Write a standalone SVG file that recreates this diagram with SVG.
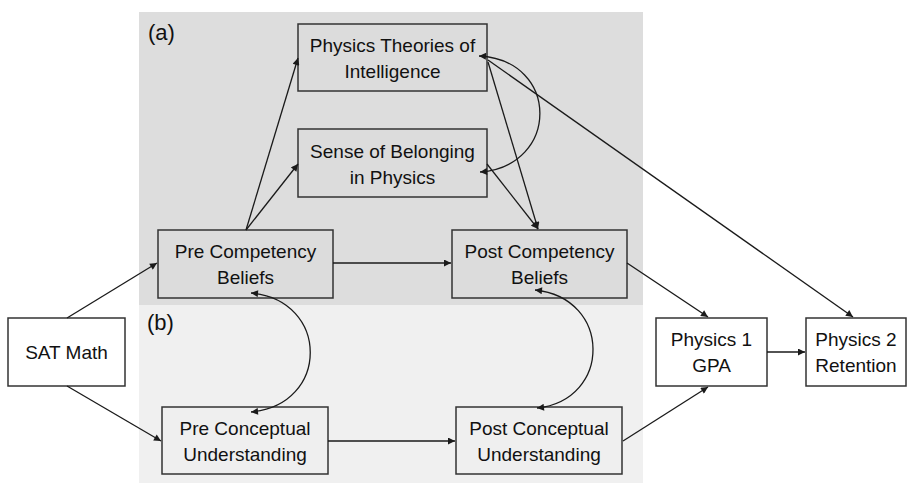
<svg xmlns="http://www.w3.org/2000/svg" width="908" height="483" viewBox="0 0 908 483">
<style>
.box{stroke:#333;stroke-width:1.5}
.a{fill:#dcdcdc}
.b{fill:#efefef}
.w{fill:#fff}
text{font-family:"Liberation Sans",Arial,sans-serif;font-size:19px;fill:#111;text-anchor:middle}
.lab{font-size:22px;text-anchor:start}
.c{fill:none;stroke:#1a1a1a;stroke-width:1.3}
</style>
<defs>
<marker id="ah" viewBox="0 0 10 10" refX="10" refY="5" markerWidth="9" markerHeight="7" markerUnits="userSpaceOnUse" orient="auto-start-reverse">
<path d="M0,0 L10,5 L0,10 z" fill="#1a1a1a"/>
</marker>
</defs>
<rect x="0" y="0" width="908" height="483" fill="#fff"/>
<rect x="139" y="12" width="504" height="293" fill="#dddddd"/>
<rect x="139" y="305" width="504" height="178" fill="#f0f0f0"/>
<text class="lab" x="148" y="40">(a)</text>
<text class="lab" x="147" y="330">(b)</text>
<g id="theories"><rect class="box a" x="298" y="24" width="189" height="67"/><text x="392.5" y="52">Physics Theories of</text><text x="392.5" y="78">Intelligence</text></g>
<g id="belonging"><rect class="box a" x="298" y="129" width="189" height="68"/><text x="392.5" y="158">Sense of Belonging</text><text x="392.5" y="184">in Physics</text></g>
<g id="precomp"><rect class="box a" x="158" y="230" width="175" height="68"/><text x="245.5" y="258">Pre Competency</text><text x="245.5" y="284">Beliefs</text></g>
<g id="postcomp"><rect class="box a" x="452" y="230" width="175" height="68"/><text x="539.5" y="258">Post Competency</text><text x="539.5" y="284">Beliefs</text></g>
<g id="satmath"><rect class="box w" x="8" y="318" width="117" height="68"/><text x="66.5" y="359">SAT Math</text></g>
<g id="precon"><rect class="box b" x="162" y="407" width="166" height="67"/><text x="245" y="435">Pre Conceptual</text><text x="245" y="461">Understanding</text></g>
<g id="postcon"><rect class="box b" x="456" y="407" width="166" height="67"/><text x="539" y="435">Post Conceptual</text><text x="539" y="461">Understanding</text></g>
<g id="phys1"><rect class="box w" x="656" y="318" width="111" height="68"/><text x="711.5" y="346">Physics 1</text><text x="711.5" y="372">GPA</text></g>
<g id="phys2"><rect class="box w" x="806" y="318" width="100" height="68"/><text x="856" y="346">Physics 2</text><text x="856" y="372">Retention</text></g>
<g id="connectors">
<line class="c" x1="67" y1="318" x2="157" y2="263" marker-end="url(#ah)"/>
<line class="c" x1="67" y1="386" x2="161" y2="441" marker-end="url(#ah)"/>
<line class="c" x1="333" y1="263" x2="451" y2="263" marker-end="url(#ah)"/>
<line class="c" x1="328" y1="441" x2="455" y2="441" marker-end="url(#ah)"/>
<line class="c" x1="246" y1="230" x2="298" y2="58" marker-end="url(#ah)"/>
<line class="c" x1="246" y1="230" x2="298" y2="164" marker-end="url(#ah)"/>
<line class="c" x1="488" y1="62" x2="538" y2="229" marker-end="url(#ah)"/>
<line class="c" x1="487" y1="164" x2="538" y2="229" marker-end="url(#ah)"/>
<line class="c" x1="488" y1="60" x2="853" y2="317" marker-end="url(#ah)"/>
<line class="c" x1="627" y1="263" x2="708" y2="317" marker-end="url(#ah)"/>
<line class="c" x1="623" y1="441" x2="708" y2="387" marker-end="url(#ah)"/>
<line class="c" x1="767" y1="352" x2="805" y2="352" marker-end="url(#ah)"/>
<path class="c" d="M479,56 C560,60 560,166 480,172" marker-start="url(#ah)" marker-end="url(#ah)"/>
<path class="c" d="M251,293 C330,300 330,405 251,412" marker-start="url(#ah)" marker-end="url(#ah)"/>
<path class="c" d="M535,290 C612,298 612,400 537,408" marker-start="url(#ah)" marker-end="url(#ah)"/>
</g>
</svg>
